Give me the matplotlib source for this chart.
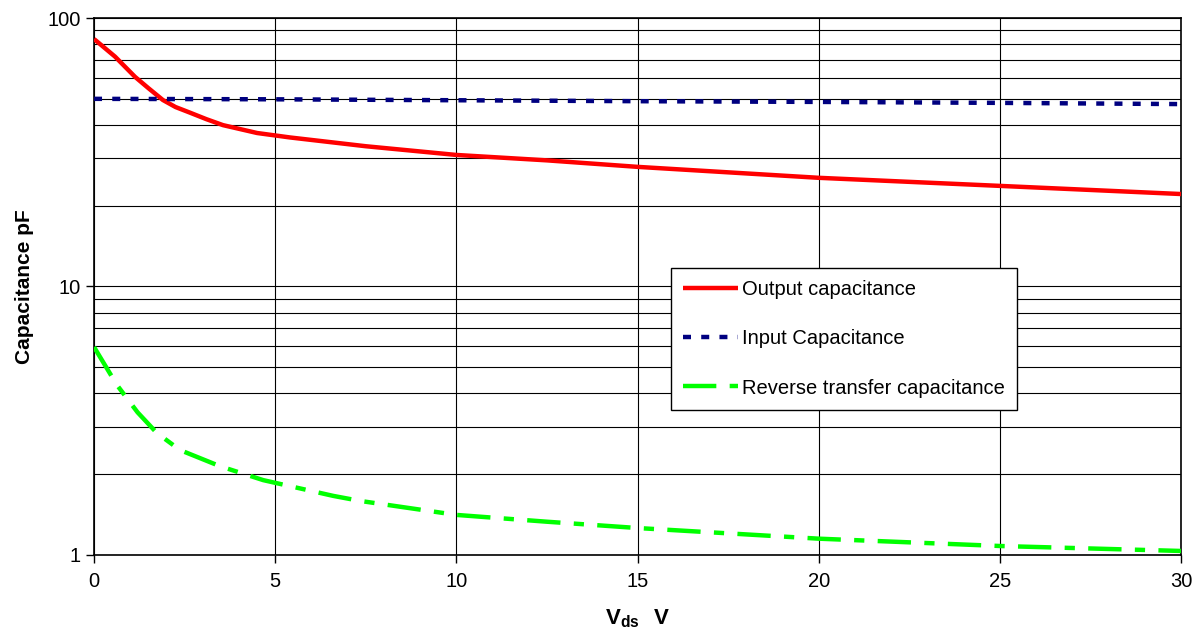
import numpy as np
import matplotlib.pyplot as plt
from matplotlib.ticker import FixedLocator, LogLocator, NullFormatter

plt.rcParams['font.family'] = ['Liberation Sans', 'DejaVu Sans']
plt.rcParams['mathtext.fontset'] = 'custom'
plt.rcParams['mathtext.rm'] = 'Liberation Sans'
plt.rcParams['mathtext.bf'] = 'Liberation Sans:bold'

# Output capacitance (pF) vs Vds (V)
vds_out = [0, 0.58, 1.13, 1.5, 1.9, 2.25, 2.65, 3.1, 3.56, 4.5, 5.41, 7.5, 10, 12.5, 15, 20, 25, 30]
c_out = [83.5, 71.8, 60.4, 54.8, 49.5, 46.6, 44.4, 42.0, 39.9, 37.3, 35.9, 33.3, 30.9, 29.5, 27.9, 25.4, 23.7, 22.1]

# Input capacitance
vds_in = [0, 5, 10, 15, 20, 25, 30]
c_in = [50.0, 49.8, 49.4, 49.0, 48.7, 48.3, 47.8]

# Reverse transfer capacitance
vds_rev = [0, 0.63, 1.2, 1.73, 2.37, 3.48, 4.67, 6.6, 7.34, 10, 12.5, 15, 20, 25, 30]
c_rev = [5.95, 4.3, 3.4, 2.85, 2.46, 2.14, 1.90, 1.66, 1.59, 1.41, 1.33, 1.26, 1.15, 1.08, 1.035]

fig = plt.figure(figsize=(12.01, 6.39), dpi=100)
ax = fig.add_axes([0.0783, 0.1315, 0.9051, 0.8403])

ax.plot(vds_out, c_out, color='#ff0000', lw=3.2, solid_capstyle='butt',
        solid_joinstyle='round', label='Output capacitance', zorder=3)
ax.plot(vds_in, c_in, color='#000080', lw=3.2, dashes=(1.8, 2.3),
        label='Input Capacitance', zorder=3)
ax.plot(vds_rev, c_rev, color='#00ff00', lw=3.2, dashes=(7.5, 3, 2.3, 3),
        label='Reverse transfer capacitance', zorder=3)

ax.set_yscale('log')
ax.set_ylim(1, 100)
ax.set_xlim(0, 30)
ax.set_xticks([0, 5, 10, 15, 20, 25, 30])
ax.yaxis.set_major_locator(FixedLocator([1, 10, 100]))
ax.set_yticklabels(['1', '10', '100'])
ax.yaxis.set_minor_locator(LogLocator(base=10, subs=np.arange(2, 10)))
ax.yaxis.set_minor_formatter(NullFormatter())
ax.tick_params(axis='both', which='major', direction='out', length=6, width=1,
               labelsize=14.5, colors='black')
ax.tick_params(axis='x', pad=6)
ax.tick_params(axis='y', which='minor', length=0)

ax.grid(True, which='major', axis='both', color='black', lw=0.8)
ax.grid(True, which='minor', axis='y', color='black', lw=0.8)
ax.set_axisbelow(True)
for s in ax.spines.values():
    s.set_color('black')
    s.set_linewidth(1.2)

ax.set_ylabel('Capacitance pF', fontsize=15, fontweight='bold', labelpad=10)
ax.set_xlabel(r'$\mathbf{V_{ds}}\ \ \mathbf{V}$', fontsize=16, labelpad=12)

leg = ax.legend(loc='upper left', bbox_to_anchor=(671 / 1201, 1 - 268 / 639),
                bbox_transform=fig.transFigure, borderaxespad=0, fontsize=14.5,
                frameon=True, fancybox=False, edgecolor='black', framealpha=1,
                handlelength=2.75, handletextpad=0.2, labelspacing=1.5,
                borderpad=0.6)
leg.get_frame().set_linewidth(1.0)

fig.savefig('out.png', dpi=100)
